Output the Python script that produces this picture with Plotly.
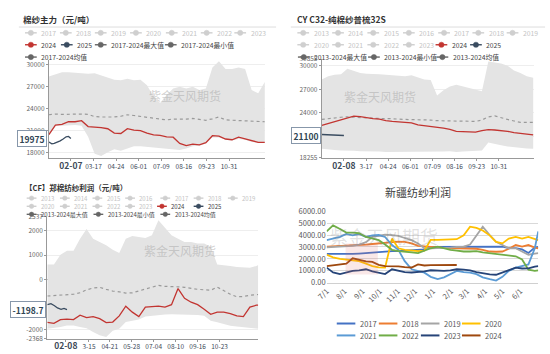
import plotly.graph_objects as go

W, H = 550, 354
FONT = "Noto Sans CJK SC, Noto Sans, sans-serif"

# ---------------- calendar grids (day of year) ----------------
DAYS_A = [0, 11, 22, 33, 44, 55, 66, 77, 88, 99, 110, 121, 132, 143, 154, 165, 176,
          187, 198, 209, 220, 231, 242, 253, 264, 275, 286, 297, 308, 319, 330, 341, 352, 363]
DAYS_C = [7, 18, 29, 40, 51, 62, 73, 84, 95, 106, 117, 128, 139, 150, 161, 172, 183,
          194, 205, 216, 227, 238, 249, 260, 271, 282, 293, 304, 315, 326, 337, 348, 359, 362]
DAYS_D = [0, 11, 23, 34, 45, 56, 68, 79, 90, 101, 113, 124, 135, 147, 158, 169, 180, 192,
          203, 214, 225, 237, 248, 259, 270, 282, 293, 304, 315, 327, 338, 349, 360, 366]

# ---------------- chart 1: 棉纱主力 ----------------
C1_MAX = [28420, 28680, 29000, 29000, 28900, 28860, 28770, 28860, 28550, 28240, 27980, 27890,
          28100, 27890, 27980, 27230, 25690, 24800, 25900, 26790, 27000, 26790, 27000, 26570,
          26790, 29650, 30500, 29430, 29430, 29650, 29430, 26570, 26130, 27670]
C1_MIN = [20400, 21700, 21700, 21800, 21800, 21700, 20200, 17900, 17600, 18100, 18500, 18300,
          18600, 18900, 18900, 18800, 18800, 18600, 18500, 18400, 18400, 18600, 18900, 19000,
          19300, 20100, 20100, 19800, 19700, 19900, 19800, 19500, 19400, 19400]
C1_AVG = [23200, 23300, 23250, 23300, 23250, 23300, 23250, 22950, 22900, 22850, 22900, 23000,
          23200, 23100, 23000, 22900, 22750, 22650, 22500, 22600, 22550, 22600, 22700, 22550,
          22450, 22650, 22900, 22500, 22450, 22450, 22300, 22250, 22300, 22250]
C1_2024 = [20500, 21800, 21900, 22250, 22250, 22400, 21600, 21550, 21450, 21300, 20700, 20650,
           21300, 21100, 21050, 20700, 20450, 20400, 20200, 20150, 19300, 19000, 19200, 19100,
           19400, 20350, 20300, 19900, 19800, 20150, 19900, 19600, 19450, 19450]
C1_2025_DAYS = [0, 5, 9, 14, 19, 24, 29, 33, 37]
C1_2025 = [19500, 19250, 19300, 19450, 19650, 19900, 20200, 20250, 19975]
C1_LAST = "19975"
C1_YTICKS = [18000, 21000, 24000, 27000, 30000]
C1_YTEXT = ["18000", "21000", "24000", "27000", "30000"]
C1_TICK_DAYS = [37, 75, 113, 151, 189, 227, 265, 303]
C1_TICK_TEXT = ["02-07", "03-17", "04-24", "06-01", "07-09", "08-16", "09-23", "10-31"]

# ---------------- chart 2: CY C32 ----------------
C2_MAX = [28250, 28660, 28860, 28900, 29600, 29310, 29070, 28980, 28900, 28900, 28860, 28780,
          28740, 28660, 28780, 28490, 28250, 28170, 26210, 26860, 27350, 27560, 27350, 27150,
          26940, 26740, 30530, 30410, 30290, 30000, 29390, 29070, 28660, 28450]
C2_MIN = [19400, 19300, 19250, 19200, 19200, 19150, 19100, 19100, 19050, 19050, 19000, 19000,
          19000, 19050, 19000, 19000, 19050, 19000, 19000, 19050, 19100, 19000, 19050, 19100,
          19100, 19200, 20200, 20000, 19850, 19700, 19600, 19500, 19450, 19400]
C2_AVG = [23150, 23270, 23350, 23430, 23480, 23430, 23350, 23350, 23270, 23270, 23270, 23190,
          23190, 23150, 23150, 23070, 23070, 23070, 22990, 22990, 22950, 22950, 22950, 22950,
          22900, 23070, 23480, 23600, 23350, 23150, 22950, 22780, 22780, 22780]
C2_2024 = [22400, 22650, 22800, 23150, 23300, 23560, 23500, 23350, 23250, 23200, 23000, 22900,
           22850, 22800, 22700, 22450, 22370, 22250, 22210, 22050, 21880, 21640, 21600, 21520,
           21520, 21720, 21840, 21800, 21760, 21640, 21480, 21360, 21270, 21190]
C2_2025_DAYS = [0, 10, 20, 30, 38]
C2_2025 = [21230, 21200, 21150, 21120, 21100]
C2_LAST = "21100"
C2_YTICKS = [18255, 21000, 24000, 27000, 30000, 30855]
C2_YTEXT = ["18255", "", "24000", "27000", "30000", "30855"]
C2_TICK_DAYS = [38, 76, 114, 152, 190, 228, 266, 304]
C2_TICK_TEXT = ["02-08", "3-17", "04-24", "06-01", "07-09", "08-16", "09-23", "10-31"]

# ---------------- chart 3: 郑棉纺纱利润 ----------------
C3_MAX = [624, 624, 1010, 1170, 1170, 1660, 2050, 1660, 1530, 1400, 1210, 1080, 1660, 1770,
          1730, 1690, 1800, 2400, 2100, 1800, 1660, 1530, 1530, 1470, 1470, 1340, 624, 600,
          560, 520, 490, 490, 560, 600]
C3_MIN = [-1970, -1950, -1900, -1840, -1840, -1900, -1950, -2100, -2230, -2300, -2050, -1970,
          -1700, -1650, -1600, -1480, -1450, -1420, -1400, -1390, -1390, -1400, -1400, -1420,
          -1450, -1650, -1710, -1780, -1850, -1880, -1900, -1930, -1950, -1970]
C3_AVG = [-650, -640, -630, -600, -580, -520, -400, -330, -300, -380, -450, -480, -530, -520,
          -450, -360, -280, -220, -260, -260, -280, -300, -350, -380, -400, -420, -290, -450,
          -580, -680, -670, -620, -580, -590]
C3_2024 = [-1710, -1750, -1600, -1580, -1600, -1420, -1520, -1480, -1560, -1720, -1700, -1450,
           -1060, -1300, -1480, -1100, -1080, -1060, -1100, -1000, -350, -740, -900, -1000,
           -1180, -1390, -1300, -1300, -1360, -1450, -1480, -1100, -1020, -1020]
C3_2025_DAYS = [7, 13, 19, 24, 30, 35, 40]
C3_2025 = [-1000, -960, -1040, -1130, -1190, -1150, -1198.7]
C3_LAST = "-1198.7"
C3_YTICKS = [-2368, -2000, -1000, 0, 1000, 2000, 2537]
C3_YTEXT = ["-2368", "-2000", "", "0", "1000", "2000", "2537"]
C3_TICK_DAYS = [38, 77, 112, 149, 186, 223, 260, 297]
C3_TICK_TEXT = ["02-08", "3-15", "04-21", "05-28", "07-04", "08-10", "09-16", "10-23"]

# ---------------- chart 4: 新疆纺纱利润 ----------------
D_YEARS = ["2017", "2018", "2019", "2020", "2021", "2022", "2023", "2024"]
D_COLORS = ["#4472C4", "#ED7D31", "#A5A5A5", "#FFC000", "#5B9BD5", "#70AD47", "#264478", "#9E480E"]
D_2017 = [2430, 2420, 2400, 2400, 2420, 2450, 2490, 2550, 2620, 2660, 2650, 2650, 2680, 2700,
          2780, 2800, 3000, 3000, 3020, 3000, 3000, 3020, 3000, 3000, 3020, 3000, 3000, 3020,
          2900, 2900, 2800, 2500, 2950, 3000]
D_2018 = [3030, 3050, 3080, 3100, 3130, 3170, 3200, 3250, 3300, 3350, 3430, 3450, 3430, 3300,
          3100, 3050, 3030, 2950, 2890, 2880, 2890, 2890, 2880, 2850, 2750, 2620, 2600, 2620,
          2850, 3160, 3030, 3160, 2950, 2890]
D_2019 = [2970, 2990, 3000, 3030, 3100, 3200, 3400, 3840, 3950, 4030, 4000, 3920, 3750, 3570,
          3300, 2890, 2880, 2890, 2900, 2950, 3000, 3030, 3200, 4000, 4700, 4000, 3430, 3160,
          2890, 2890, 2620, 2350, 2450, 2490]
D_2020 = [2350, 2135, 2000, 1950, 1880, 1810, 1600, 1400, 1300, 1270, 3700, 2890, 2750, 2700,
          2650, 2700, 3600, 3600, 3620, 3600, 3650, 3970, 4700, 4600, 4380, 3970, 3430, 3300,
          3700, 3840, 3700, 3840, 3650, 3570]
D_2021 = [3570, 3700, 3840, 4100, 3970, 4100, 3840, 3970, 4000, 3840, 3160, 2760, 1810, 1135,
          1000, 850, 500, 320, 460, 700, 1000, 900, 850, 730, 460, 300, 190, 500, 1000, 1270,
          1400, 1540, 2890, 4300]
D_2022 = [4300, 4800, 4500, 4200, 4200, 4150, 3840, 3700, 3570, 3200, 2760, 2650, 2620, 2550,
          2490, 2700, 2890, 3030, 2900, 2760, 2700, 2620, 2620, 2650, 2550, 2490, 2400, 2350,
          2300, 2220, 1950, 1100, 1000, 1050]
D_2023 = [1270, 865, 730, 850, 1000, 1050, 1135, 950, 850, 730, 1135, 1000, 900, 865, 900, 950,
          1050, 1000, 1000, 1050, 1135, 1100, 1050, 900, 785, 700, 675, 865, 1100, 1270, 1200,
          1215, 1350, 1400]
D_2024 = [1400, 1450, 1500, 1600, 2050, 1900, 1800, 1750, 1500, 1400, 1400, 1380, 1320, 1280,
          1540, 1450, 1480, 1500, 1500, 1480, 1490] + [None] * 13
D_SERIES = [D_2017, D_2018, D_2019, D_2020, D_2021, D_2022, D_2023, D_2024]
D_YTICKS = [0, 1000, 2000, 3000, 4000, 5000, 6000]
D_TICK_DAYS = [0, 31, 62, 92, 123, 153, 184, 215, 243, 274, 304, 335]
D_TICK_TEXT = ["7/1", "8/1", "9/1", "10/1", "11/1", "12/1", "1/1", "2/1", "3/1", "4/1", "5/1", "6/1"]

# ---------------- styles ----------------
BAND = "#e4e4e4"
RED = "#c23531"
NAVY = "#3a4c60"
AVGC = "#9a9a9a"
GREYLEG = "#cfcfcf"
DARKLEG = "#666666"


def px(x):
    return x / W


def py(y):
    return 1 - y / H


fig = go.Figure()


def echart_panel(xa, ya, days, lo, hi, avg, s24, d25, s25):
    fig.add_trace(go.Scatter(x=days, y=lo, xaxis=xa, yaxis=ya, mode="lines",
                             line=dict(width=0, color=BAND), hoverinfo="skip"))
    fig.add_trace(go.Scatter(x=days, y=hi, xaxis=xa, yaxis=ya, mode="lines",
                             line=dict(width=0, color=BAND), fill="tonexty",
                             fillcolor=BAND, hoverinfo="skip"))
    fig.add_trace(go.Scatter(x=days, y=avg, xaxis=xa, yaxis=ya, mode="lines",
                             line=dict(width=1.2, color=AVGC, dash="3px,3px")))
    fig.add_trace(go.Scatter(x=days, y=s24, xaxis=xa, yaxis=ya, mode="lines",
                             line=dict(width=1.3, color=RED)))
    fig.add_trace(go.Scatter(x=d25, y=s25, xaxis=xa, yaxis=ya, mode="lines",
                             line=dict(width=1.3, color=NAVY)))


echart_panel("x", "y", DAYS_A, C1_MIN, C1_MAX, C1_AVG, C1_2024, C1_2025_DAYS, C1_2025)
echart_panel("x2", "y2", DAYS_A, C2_MIN, C2_MAX, C2_AVG, C2_2024, C2_2025_DAYS, C2_2025)
echart_panel("x3", "y3", DAYS_C, C3_MIN, C3_MAX, C3_AVG, C3_2024, C3_2025_DAYS, C3_2025)

for name, col, vals in zip(D_YEARS, D_COLORS, D_SERIES):
    fig.add_trace(go.Scatter(x=DAYS_D, y=vals, xaxis="x4", yaxis="y4", mode="lines",
                             name=name, line=dict(width=1.8, color=col)))


def bold_first(texts):
    out = list(texts)
    out[0] = "<span style='font-size:8.5px'><b>" + out[0] + "</b></span>"
    return out


def ex_x(dom, rng, tv, tt):
    return dict(domain=dom, range=rng, tickvals=tv, ticktext=bold_first(tt), showgrid=False,
                zeroline=False, showline=True, linecolor="#999", linewidth=1, ticks="outside",
                ticklen=2, tickcolor="#999", tickfont=dict(size=6.5, color="#3d4a58"))


def ex_y(dom, rng, tv, tt):
    return dict(domain=dom, range=rng, tickvals=tv, ticktext=tt, showgrid=True,
                gridcolor="#eeeeee", gridwidth=1, zeroline=False, showline=True,
                linecolor="#999", linewidth=1, ticks="outside", ticklen=2, tickcolor="#999",
                tickfont=dict(size=6.5, color="#666"))


layout = dict(
    width=W, height=H, margin=dict(l=0, r=0, t=0, b=0), paper_bgcolor="white",
    plot_bgcolor="white", showlegend=False, font=dict(family=FONT, size=7, color="#666"),
    xaxis=dict(anchor="y", **ex_x([px(37.7), px(259)], [0, 364], C1_TICK_DAYS, C1_TICK_TEXT)),
    yaxis=dict(anchor="x", **ex_y([py(157), py(55.4)], [17300, 30700], C1_YTICKS, C1_YTEXT)),
    xaxis2=dict(anchor="y2", **ex_x([px(316.7), px(534)], [0, 365], C2_TICK_DAYS, C2_TICK_TEXT)),
    yaxis2=dict(anchor="x2", **ex_y([py(156.7), py(54.7)], [18255, 30855], C2_YTICKS, C2_YTEXT)),
    xaxis3=dict(anchor="y3", **ex_x([px(36), px(251.7)], [6.7, 362], C3_TICK_DAYS, C3_TICK_TEXT)),
    yaxis3=dict(anchor="x3", **ex_y([py(343.3), py(217.7)], [-2368, 2537], C3_YTICKS, C3_YTEXT)),
    xaxis4=dict(anchor="y4", domain=[px(321.7), px(538)], range=[0, 366], tickvals=D_TICK_DAYS,
                ticktext=D_TICK_TEXT, tickangle=-45, showgrid=False, zeroline=False,
                showline=True, linecolor="#d0d0d0", ticks="", tickfont=dict(size=7.5, color="#595959")),
    yaxis4=dict(anchor="x4", domain=[py(285.7), py(211.7)], range=[0, 6000], tickvals=D_YTICKS,
                tickformat=".2f", showgrid=True, gridcolor="#d9d9d9", gridwidth=0.8,
                zeroline=False, showline=False, ticks="", tickfont=dict(size=7.5, color="#595959")),
)
fig.update_layout(**layout)
fig.update_layout(yaxis3=dict(zeroline=True, zerolinecolor="#b0b0b0", zerolinewidth=1))

shapes = []
ann = []


def legend_item(cx, cy, label, color, tcolor, size=6.8, r=2.7, half=6):
    shapes.append(dict(type="line", xref="paper", yref="paper", x0=px(cx - half), x1=px(cx + half),
                       y0=py(cy), y1=py(cy), line=dict(color=color, width=1.4)))
    shapes.append(dict(type="circle", xref="paper", yref="paper", x0=px(cx - r), x1=px(cx + r),
                       y0=py(cy + r), y1=py(cy - r), fillcolor=color, line=dict(color=color, width=0.5)))
    ann.append(dict(x=px(cx + half + 2.5), y=py(cy), xref="paper", yref="paper", text=label,
                    showarrow=False, xanchor="left", yanchor="middle",
                    font=dict(size=size, color=tcolor)))


# chart 1 legend
for lab, x in zip(["2017", "2018", "2019", "2020", "2021", "2022", "2023"],
                  [19.3, 55, 90.7, 126.7, 163.3, 199, 233.3]):
    legend_item(x, 27.7, lab, GREYLEG, "#c4c4c4")
legend_item(19.3, 40, "2024", RED, "#444")
legend_item(56, 40, "2025", NAVY, "#444")
legend_item(90.7, 40, "2017-2024最大值", DARKLEG, "#444")
legend_item(162.3, 40, "2017-2024最小值", DARKLEG, "#444")
legend_item(19.3, 52.7, "2017-2024均值", DARKLEG, "#444")

# chart 2 legend
for lab, x in zip(["2013", "2014", "2015", "2016", "2017", "2018", "2019"],
                  [297.7, 333.3, 369.3, 405.7, 441.7, 476.7, 511.7]):
    legend_item(x, 27.7, lab, GREYLEG, "#c4c4c4")
for lab, x in zip(["2020", "2021", "2022", "2023"], [297.7, 333.3, 369.3, 405.7]):
    legend_item(x, 40, lab, GREYLEG, "#c4c4c4")
legend_item(439, 40, "2024", RED, "#444")
legend_item(474.3, 40, "2025", NAVY, "#444")
legend_item(298.3, 52.7, "2013-2024最大值", DARKLEG, "#444")
legend_item(370, 52.7, "2013-2024最小值", DARKLEG, "#444")
legend_item(440, 52.7, "2013-2024均值", DARKLEG, "#444")

# chart 3 legend (smaller)
for lab, x in zip(["2013", "2014", "2015", "2016", "2017", "2018", "2019"],
                  [20, 54, 87.3, 120.7, 156.7, 190.7, 225.7]):
    legend_item(x, 198.3, lab, GREYLEG, "#c4c4c4", size=6, r=2.3, half=5)
for lab, x in zip(["2020", "2021", "2022", "2023"], [20, 54, 87.3, 120.7]):
    legend_item(x, 206.7, lab, GREYLEG, "#c4c4c4", size=6, r=2.3, half=5)
legend_item(153.3, 206.7, "2024", RED, "#444", size=6, r=2.3, half=5)
legend_item(190.7, 206.7, "2025", NAVY, "#444", size=6, r=2.3, half=5)
legend_item(20, 215, "2013-2024最大值", DARKLEG, "#444", size=6, r=2.3, half=5)
legend_item(88.3, 215, "2013-2024最小值", DARKLEG, "#444", size=6, r=2.3, half=5)
legend_item(156.7, 215, "2013-2024均值", DARKLEG, "#444", size=6, r=2.3, half=5)

# chart 4 legend
for i, (lab, col) in enumerate(zip(D_YEARS, D_COLORS)):
    row, colx = divmod(i, 4)
    x0 = [332, 375, 418, 460][colx]
    yy = [327.7, 340][row]
    shapes.append(dict(type="line", xref="paper", yref="paper", x0=px(x0), x1=px(x0 + 19),
                       y0=py(yy), y1=py(yy), line=dict(color=col, width=2)))
    ann.append(dict(x=px(x0 + 22), y=py(yy), xref="paper", yref="paper", text=lab,
                    showarrow=False, xanchor="left", yanchor="middle",
                    font=dict(size=7.5, color="#595959")))

# titles
ann.append(dict(x=px(9), y=py(13), xref="paper", yref="paper", text="<b>棉纱主力（元/吨）</b>",
                showarrow=False, xanchor="left", yanchor="middle", font=dict(size=8.5, color="#333")))
ann.append(dict(x=px(289), y=py(13), xref="paper", yref="paper", text="<b>CY C32-纯棉纱普梳32S</b>",
                showarrow=False, xanchor="left", yanchor="middle", font=dict(size=8.5, color="#333")))
ann.append(dict(x=px(11), y=py(187.7), xref="paper", yref="paper",
                text="<b>【CF】郑棉纺纱利润（元/吨）</b>", showarrow=False, xanchor="left",
                yanchor="middle", font=dict(size=7.5, color="#333")))
ann.append(dict(x=px(415.5), y=py(192), xref="paper", yref="paper", text="新疆纺纱利润",
                showarrow=False, xanchor="center", yanchor="middle", font=dict(size=11, color="#404040")))
shapes.append(dict(type="line", xref="paper", yref="paper", x0=px(7), x1=px(270), y0=py(21.7),
                   y1=py(21.7), line=dict(color="#dddddd", width=1)))
shapes.append(dict(type="line", xref="paper", yref="paper", x0=px(285), x1=px(545), y0=py(21.7),
                   y1=py(21.7), line=dict(color="#dddddd", width=1)))

# watermarks
for x, y in [(137.5, 81.7), (415.5, 82.3), (133, 263.3)]:
    ann.append(dict(x=px(x), y=py(y), xref="paper", yref="paper", text="紫金天风期货",
                    showarrow=False, font=dict(size=12, color="rgba(170,170,170,0.55)")))
shapes.append(dict(type="rect", xref="paper", yref="paper", x0=px(341), x1=px(374), y0=py(277),
                   y1=py(245), fillcolor="rgba(225,110,110,0.16)", line=dict(width=0), layer="above"))
ann.append(dict(x=px(438), y=py(253), xref="paper", yref="paper", text="紫金天风期货",
                showarrow=False, font=dict(size=18, color="rgba(120,120,120,0.22)")))

# last value boxes
for xr, yref, val, txt in [(35.5, "y", 19975, C1_LAST), (315.5, "y2", 21100, C2_LAST),
                           (34.5, "y3", -1198.7, C3_LAST)]:
    ann.append(dict(x=px(xr), y=val, xref="paper", yref=yref, text="<b>" + txt + "</b>",
                    showarrow=False, xanchor="right", yanchor="middle", bgcolor="white",
                    bordercolor="#8797aa", borderwidth=1, borderpad=1.5,
                    font=dict(size=8.5, color="#2f4554")))

fig.update_layout(shapes=shapes, annotations=ann)
fig.write_html("out.html")
